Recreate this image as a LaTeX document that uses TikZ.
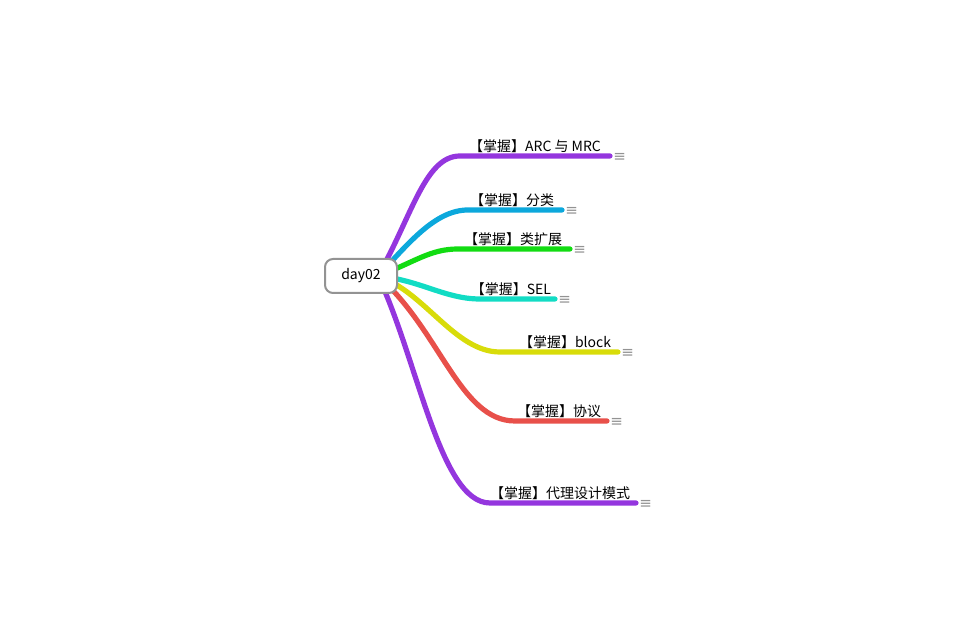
\documentclass[tikz,border=0pt]{standalone}
\usepackage{fontspec}
\setmainfont{Noto Sans CJK SC}
\newfontfamily\symfont{DejaVu Sans}
\usetikzlibrary{backgrounds}
\definecolor{mmpurple}{RGB}{148,54,222}
\definecolor{mmblue}{RGB}{12,168,220}
\definecolor{mmgreen}{RGB}{18,220,18}
\definecolor{mmcyan}{RGB}{18,220,196}
\definecolor{mmyellow}{RGB}{216,220,10}
\definecolor{mmred}{RGB}{232,80,74}
\begin{document}
\begin{tikzpicture}[x=0.5pt,y=-0.5pt,branch/.style={line width=2.6pt,line cap=round},
topic/.style={font=\fontsize{7}{8}\selectfont,anchor=base,inner sep=0pt},
note/.style={font=\symfont\fontsize{7.5}{7.5}\selectfont,text=gray!85,anchor=west,inner sep=0pt}]
\useasboundingbox (0,0) rectangle (960,640);
\node[draw=gray!85,line width=1pt,rounded corners=4pt,fill=white,minimum width=36pt,minimum height=17pt,font=\fontsize{7}{8}\selectfont] (root) at (361,276) {day02};
\coordinate (hub) at (378,276);
% bends and ends
\coordinate (b1) at (460,156); \coordinate (e1) at (610,156);
\coordinate (b2) at (468,210); \coordinate (e2) at (562,210);
\coordinate (b3) at (458,249); \coordinate (e3) at (570,249);
\coordinate (b4) at (480,299); \coordinate (e4) at (555,299);
\coordinate (b5) at (500,352); \coordinate (e5) at (618,352);
\coordinate (b6) at (515,421); \coordinate (e6) at (607,421);
\coordinate (b7) at (490,503); \coordinate (e7) at (636,503);
\begin{scope}[on background layer]
\draw[branch,mmpurple] (hub) .. controls (412,216) and (425,156) .. (b1) -- (e1);
\draw[branch,mmblue] (hub) .. controls (408,244) and (435,210) .. (b2) -- (e2);
\draw[branch,mmgreen] (hub) .. controls (415,262) and (430,249) .. (b3) -- (e3);
\draw[branch,mmcyan] (hub) .. controls (420,280) and (445,299) .. (b4) -- (e4);
\draw[branch,mmyellow] (hub) .. controls (425,292) and (455,352) .. (b5) -- (e5);
\draw[branch,mmred] (hub) .. controls (440,330) and (460,421) .. (b6) -- (e6);
\draw[branch,mmpurple] (hub) .. controls (418,360) and (440,503) .. (b7) -- (e7);
\end{scope}
\node[topic] (l1) at (535,152) {【掌握】ARC 与 MRC};
\node[topic] (l2) at (512,206) {【掌握】分类};
\node[topic] (l3) at (513,245) {【掌握】类扩展};
\node[topic] (l4) at (511,295) {【掌握】SEL};
\node[topic] (l5) at (565,348) {【掌握】block};
\node[topic] (l6) at (559,417) {【掌握】协议};
\node[topic] (l7) at (560,499) {【掌握】代理设计模式};
\node[note] (n1) at ([xshift=1.5pt,yshift=-0.8pt]e1) {≡};
\node[note] (n2) at ([xshift=1.5pt,yshift=-0.8pt]e2) {≡};
\node[note] (n3) at ([xshift=1.5pt,yshift=-0.8pt]e3) {≡};
\node[note] (n4) at ([xshift=1.5pt,yshift=-0.8pt]e4) {≡};
\node[note] (n5) at ([xshift=1.5pt,yshift=-0.8pt]e5) {≡};
\node[note] (n6) at ([xshift=1.5pt,yshift=-0.8pt]e6) {≡};
\node[note] (n7) at ([xshift=1.5pt,yshift=-0.8pt]e7) {≡};
\end{tikzpicture}
\end{document}
